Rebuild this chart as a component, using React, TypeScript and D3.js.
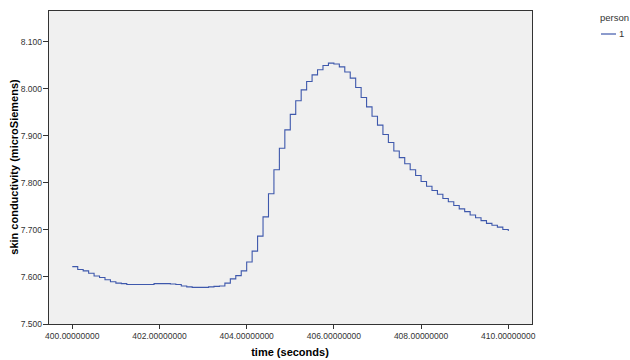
import React from 'react';
import * as d3 from 'd3';

// sample times (s), 8 Hz recording
const times = [
  400.0, 400.125, 400.25, 400.375, 400.5, 400.625, 400.75, 400.875,
  401.0, 401.125, 401.25, 401.375, 401.5, 401.625, 401.75, 401.875,
  402.0, 402.125, 402.25, 402.375, 402.5, 402.625, 402.75, 402.875,
  403.0, 403.125, 403.25, 403.375, 403.5, 403.625, 403.75, 403.875,
  404.0, 404.125, 404.25, 404.375, 404.5, 404.625, 404.75, 404.875,
  405.0, 405.125, 405.25, 405.375, 405.5, 405.625, 405.75, 405.875,
  406.0, 406.125, 406.25, 406.375, 406.5, 406.625, 406.75, 406.875,
  407.0, 407.125, 407.25, 407.375, 407.5, 407.625, 407.75, 407.875,
  408.0, 408.125, 408.25, 408.375, 408.5, 408.625, 408.75, 408.875,
  409.0, 409.125, 409.25, 409.375, 409.5, 409.625, 409.75, 409.875,
  410.0,
];

// skin conductivity (microSiemens), person 1
const conductivity = [
  7.622, 7.616, 7.613, 7.608, 7.602, 7.599, 7.594, 7.59,
  7.587, 7.586, 7.584, 7.584, 7.584, 7.584, 7.584, 7.586,
  7.586, 7.586, 7.585, 7.584, 7.581, 7.579, 7.578, 7.578,
  7.578, 7.579, 7.58, 7.581, 7.587, 7.596, 7.603, 7.613,
  7.632, 7.655, 7.687, 7.728, 7.777, 7.828, 7.874, 7.913,
  7.946, 7.975, 7.998, 8.016, 8.03, 8.041, 8.05, 8.055,
  8.053, 8.047, 8.036, 8.023, 8.003, 7.982, 7.962, 7.942,
  7.923, 7.903, 7.886, 7.868, 7.854, 7.841, 7.828, 7.816,
  7.803, 7.793, 7.784, 7.776, 7.767, 7.76, 7.752, 7.745,
  7.739, 7.732, 7.726, 7.72, 7.714, 7.71, 7.706, 7.701,
  7.698,
];

const xTicks = [400, 402, 404, 406, 408, 410];
const yTicks = [7.5, 7.6, 7.7, 7.8, 7.9, 8.0, 8.1];
const legendTitle = 'person';
const legendItems = ['1'];

const width = 630;
const height = 360;
const plot = { left: 48, top: 10, right: 532, bottom: 324 };
const lineColor = '#3e58ac';
const font = 'Liberation Sans, Arial, sans-serif';

export default function App() {
  const x = d3.scaleLinear().domain([399.443, 410.544]).range([plot.left, plot.right]);
  const y = d3.scaleLinear().domain([7.5, 8.168]).range([plot.bottom, plot.top]);

  const points = times.map((t, i) => [t, conductivity[i]] as [number, number]);
  const line = d3.line<[number, number]>()
    .x(d => x(d[0]))
    .y(d => y(d[1]))
    .curve(d3.curveStepAfter);

  const fx = d3.format('.8f');
  const fy = d3.format('.3f');

  return (
    <svg width={width} height={height} style={{ position: 'absolute', left: 0, top: 0, background: '#fff' }}>
      <rect x={plot.left} y={plot.top} width={plot.right - plot.left} height={plot.bottom - plot.top}
        fill="#f0f0f0" stroke="#333" strokeWidth={1} shapeRendering="crispEdges" />

      {/* y axis */}
      {yTicks.map(v => (
        <g key={v}>
          <line x1={plot.left - 5} x2={plot.left} y1={y(v)} y2={y(v)} stroke="#333" shapeRendering="crispEdges" />
          <text x={plot.left - 6} y={y(v) + 3} textAnchor="end" fontSize={8.5} fontFamily={font} fill="#333">{fy(v)}</text>
        </g>
      ))}
      <text transform={`translate(18,${(plot.top + plot.bottom) / 2}) rotate(-90)`} textAnchor="middle"
        fontSize={11} fontWeight="bold" fontFamily={font} fill="#000">skin conductivity (microSiemens)</text>

      {/* x axis */}
      {xTicks.map(v => (
        <g key={v}>
          <line x1={x(v)} x2={x(v)} y1={plot.bottom} y2={plot.bottom + 5} stroke="#333" shapeRendering="crispEdges" />
          <text x={x(v)} y={plot.bottom + 15} textAnchor="middle" fontSize={8.5} fontFamily={font} fill="#333">{fx(v)}</text>
        </g>
      ))}
      <text x={(plot.left + plot.right) / 2} y={356} textAnchor="middle" fontSize={11} fontWeight="bold"
        fontFamily={font} fill="#000">time (seconds)</text>

      <path d={line(points) ?? ''} fill="none" stroke={lineColor} strokeWidth={1.1} />

      {/* legend */}
      <text x={600} y={21} fontSize={9.5} fontFamily={font} fill="#333">{legendTitle}</text>
      {legendItems.map((item, i) => (
        <g key={item}>
          <line x1={601} x2={616} y1={34 + i * 12} y2={34 + i * 12} stroke={lineColor} strokeWidth={1.2} />
          <text x={619} y={37 + i * 12} fontSize={9.5} fontFamily={font} fill="#333">{item}</text>
        </g>
      ))}
    </svg>
  );
}
